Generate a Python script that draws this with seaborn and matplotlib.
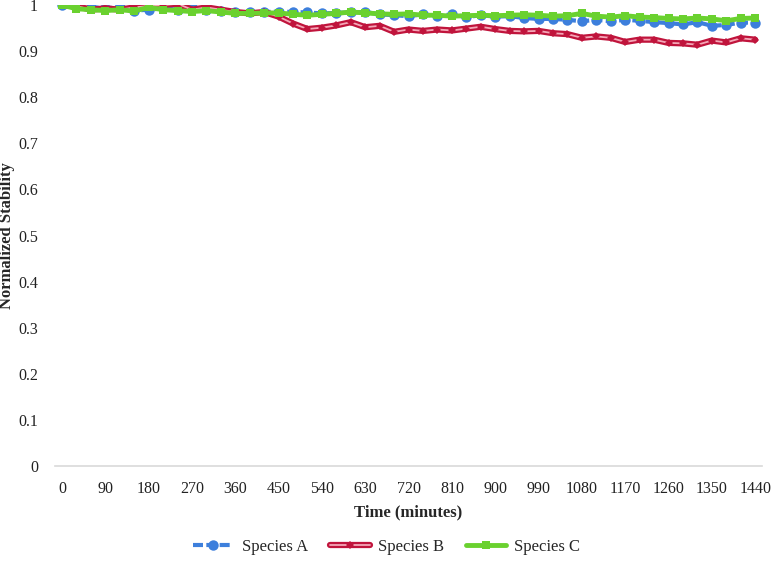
import numpy as np
import pandas as pd
import matplotlib
matplotlib.use("Agg")
import matplotlib.pyplot as plt
import matplotlib.patheffects as pe
from matplotlib.legend_handler import HandlerTuple
import seaborn as sns

# time axis, one reading every 30 minutes
minutes = list(range(0, 1441, 30))

species_a = [1.000, 0.995, 0.996, 0.993, 0.996, 0.988, 0.990, 0.993, 0.990, 0.995,
             0.990, 0.988, 0.985, 0.984, 0.985, 0.986, 0.985, 0.984, 0.982, 0.983,
             0.984, 0.985, 0.980, 0.978, 0.976, 0.980, 0.976, 0.980, 0.974, 0.978,
             0.975, 0.976, 0.972, 0.970, 0.970, 0.968, 0.965, 0.968, 0.965, 0.968,
             0.966, 0.963, 0.961, 0.958, 0.963, 0.955, 0.957, 0.962, 0.962]

species_b = [1.000, 0.998, 0.990, 0.993, 0.990, 0.995, 0.998, 1.000, 1.003, 0.990,
             0.995, 0.990, 0.985, 0.982, 0.985, 0.975, 0.960, 0.948, 0.951, 0.956,
             0.963, 0.952, 0.955, 0.942, 0.947, 0.944, 0.947, 0.945, 0.949, 0.953,
             0.948, 0.944, 0.943, 0.944, 0.939, 0.937, 0.929, 0.932, 0.929, 0.920,
             0.925, 0.925, 0.918, 0.917, 0.914, 0.923, 0.919, 0.928, 0.925]

species_c = [1.000, 0.992, 0.990, 0.988, 0.990, 0.987, 0.995, 0.990, 0.988, 0.986,
             0.988, 0.985, 0.982, 0.982, 0.983, 0.983, 0.980, 0.978, 0.980, 0.982,
             0.985, 0.983, 0.981, 0.980, 0.981, 0.978, 0.978, 0.976, 0.977, 0.978,
             0.977, 0.978, 0.979, 0.978, 0.976, 0.977, 0.982, 0.976, 0.974, 0.977,
             0.974, 0.973, 0.971, 0.970, 0.972, 0.970, 0.966, 0.971, 0.972]

labels = ["Species A", "Species B", "Species C"]
x_ticks = list(range(0, 1441, 90))
y_ticks = [round(0.1 * i, 1) for i in range(11)]

sns.set_style("white")
plt.rcParams["font.family"] = ["Liberation Serif", "DejaVu Serif"]

fig = plt.figure(figsize=(7.75, 5.66), dpi=100)
ax = fig.add_axes([0.0707, 0.1767, 0.913, 0.8143])

df = pd.DataFrame({"Time": minutes, "A": species_a, "B": species_b, "C": species_c})

red = "#c0143c"

sns.lineplot(data=df, x="Time", y="A", ax=ax, color="#3d7fdc", lw=3,
             linestyle=(0, (2.4, 0.8)), marker="o", markersize=7.5,
             markeredgewidth=0, legend=False)
# Species B: red outline with a pale core, then the diamond markers on top
sns.lineplot(data=df, x="Time", y="B", ax=ax, color="#f4a7b7", lw=1.3,
             legend=False,
             path_effects=[pe.Stroke(linewidth=4.5, foreground=red), pe.Normal()])
sns.lineplot(data=df, x="Time", y="B", ax=ax, color=red, lw=0,
             marker="D", markersize=4.5, markeredgewidth=0, legend=False)
sns.lineplot(data=df, x="Time", y="C", ax=ax, color="#6ad12f", lw=3.5,
             marker="s", markersize=6, markeredgewidth=0, legend=False)

lines = ax.get_lines()
handles = [lines[0], (lines[1], lines[2]), lines[3]]

ax.set_xlim(-15, 1455)
ax.set_ylim(0, 1)
ax.set_xticks(x_ticks)
ax.set_yticks(y_ticks)
ax.set_yticklabels([("%g" % v) for v in y_ticks])
ax.tick_params(axis="both", length=0, labelsize=11.5, colors="#222222")
ax.tick_params(axis="x", pad=11)
ax.tick_params(axis="y", pad=12)

for side in ["top", "right", "left"]:
    ax.spines[side].set_visible(False)
ax.spines["bottom"].set_color("#d9d9d9")
ax.spines["bottom"].set_linewidth(1.2)

ax.set_xlabel("Time (minutes)", fontsize=12, fontweight="bold", labelpad=5)
ax.set_ylabel("Normalized Stability", fontsize=12, fontweight="bold")
ax.yaxis.set_label_coords(-0.056, 0.5)

ax.legend(handles, labels, loc="center", bbox_to_anchor=(0.469, -0.176), ncol=3,
          frameon=False, fontsize=12, handlelength=2.4, columnspacing=1.3,
          handletextpad=0.5, handler_map={tuple: HandlerTuple(ndivide=1)})

fig.savefig("out.png", dpi=100)
